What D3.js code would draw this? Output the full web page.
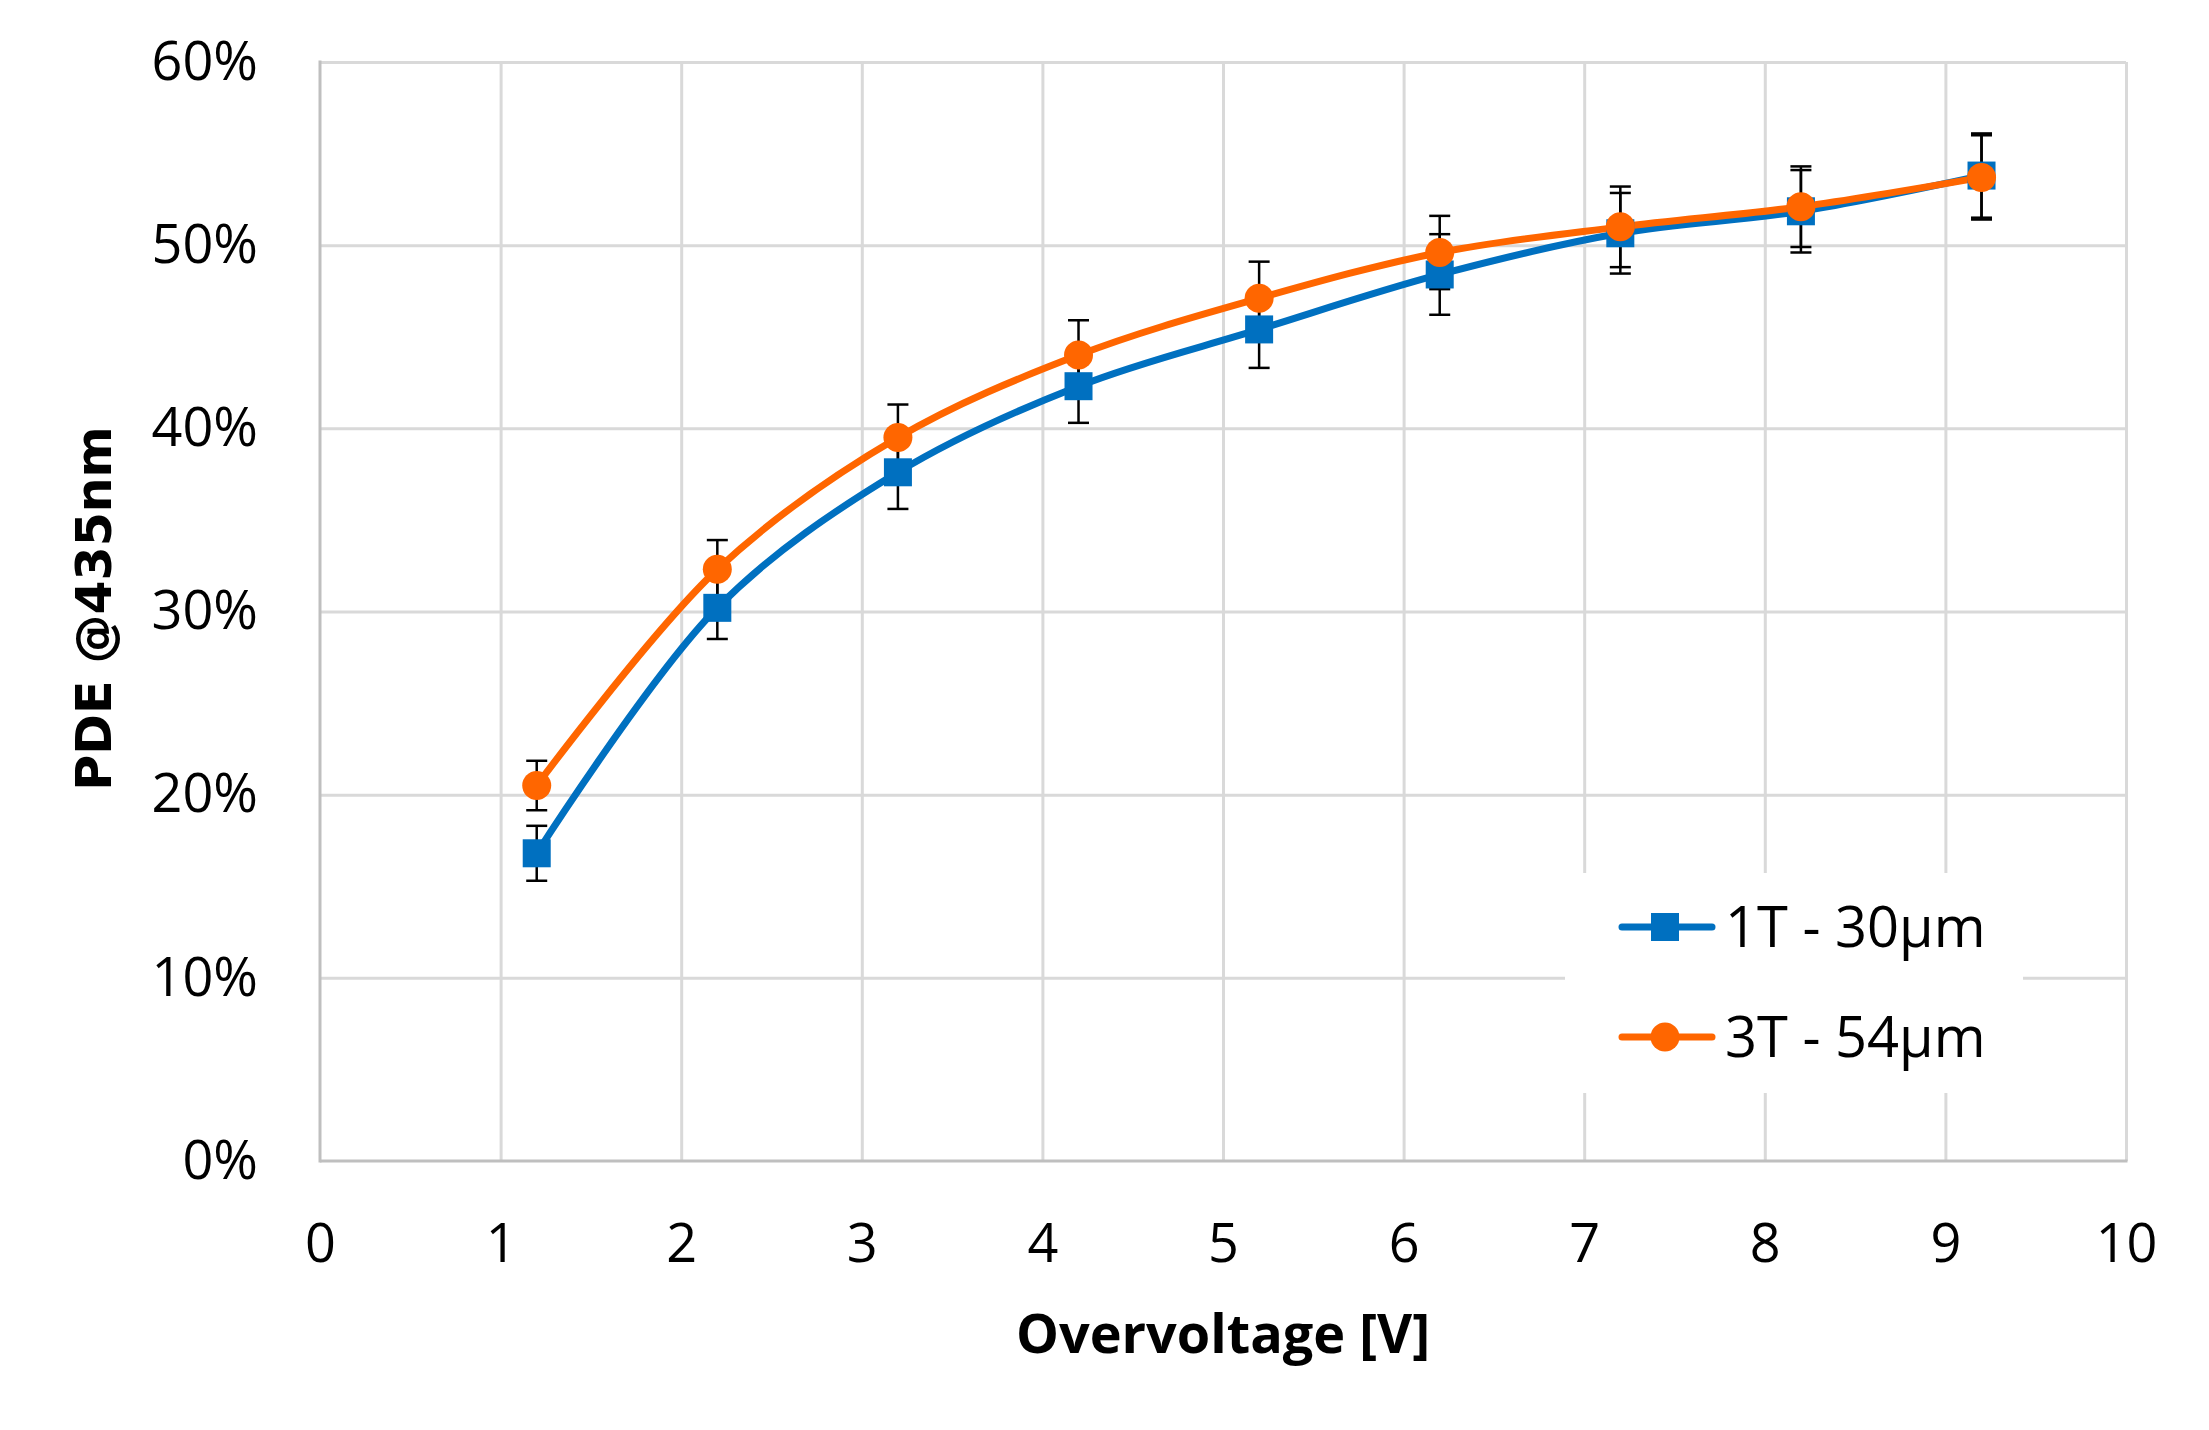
<!DOCTYPE html>
<html>
<head>
<meta charset="utf-8">
<script src="https://cdn.jsdelivr.net/npm/d3@7"></script>
<style>
  html, body { margin: 0; padding: 0; background: #ffffff; }
  svg { display: block; }
</style>
</head>
<body>
<div id="chart"></div>
<script>
// values
const overvoltage = [1.2, 2.2, 3.2, 4.2, 5.2, 6.2, 7.2, 8.2, 9.2];
const pde1T = [16.8, 30.2, 37.6, 42.3, 45.4, 48.4, 50.65, 51.85, 53.8];
const err1T = [1.5, 1.7, 2.0, 2.0, 2.1, 2.2, 2.2, 2.25, 2.3];
const pde3T = [20.5, 32.3, 39.5, 44.0, 47.1, 49.6, 51.0, 52.1, 53.7];
const err3T = [1.35, 1.6, 1.8, 1.9, 2.0, 2.0, 2.2, 2.2, 2.3];
const seriesNames = ['1T - 30\u00b5m', '3T - 54\u00b5m'];
const xTicks = [0, 1, 2, 3, 4, 5, 6, 7, 8, 9, 10];
const yTicks = [0, 10, 20, 30, 40, 50, 60];

const width = 2209;
const height = 1430;
const plot = { left: 320, right: 2126, top: 62, bottom: 1161 };
const labelFont = "'Open Sans', 'Noto Sans', sans-serif";

const svg = d3.select('#chart').append('svg')
    .attr('width', width)
    .attr('height', height)
    .attr('viewBox', `0 0 ${width} ${height}`);

const xScale = d3.scaleLinear().domain([0, 10]).range([plot.left, plot.right]);
const yScale = d3.scaleLinear().domain([0, 60]).range([plot.bottom, plot.top]);

// gridlines
svg.append('g')
    .attr('transform', `translate(${plot.left}, 0)`)
    .call(d3.axisLeft(yScale).tickValues(yTicks.slice(1)).tickSize(-(plot.right - plot.left)).tickFormat(''))
    .call(g => g.select('.domain').remove())
    .selectAll('line').attr('stroke', '#d9d9d9').attr('stroke-width', 3);
svg.append('g')
    .attr('transform', `translate(0, ${plot.bottom})`)
    .call(d3.axisBottom(xScale).tickValues(xTicks.slice(1)).tickSize(-(plot.bottom - plot.top)).tickFormat(''))
    .call(g => g.select('.domain').remove())
    .selectAll('line').attr('stroke', '#d9d9d9').attr('stroke-width', 3);

// axis lines
svg.append('line')
    .attr('x1', plot.left).attr('x2', plot.left)
    .attr('y1', plot.top - 1.5).attr('y2', plot.bottom + 1.5)
    .attr('stroke', '#bfbfbf').attr('stroke-width', 3);
svg.append('line')
    .attr('x1', plot.left).attr('x2', plot.right + 1.5)
    .attr('y1', plot.bottom).attr('y2', plot.bottom)
    .attr('stroke', '#bfbfbf').attr('stroke-width', 3);

// tick labels
const yAxis = svg.append('g')
    .attr('transform', `translate(${plot.left}, 0)`)
    .call(d3.axisLeft(yScale).tickValues(yTicks).tickSize(0).tickPadding(62).tickFormat(d => d + '%'));
yAxis.select('.domain').remove();
const xAxis = svg.append('g')
    .attr('transform', `translate(0, ${plot.bottom})`)
    .call(d3.axisBottom(xScale).tickValues(xTicks).tickSize(0).tickPadding(63).tickFormat(d3.format('d')));
xAxis.select('.domain').remove();
svg.selectAll('.tick text')
    .attr('fill', '#000000')
    .style('font-family', labelFont)
    .style('font-size', '54px');

// axis titles
svg.append('text')
    .attr('x', (plot.left + plot.right) / 2)
    .attr('y', 1353)
    .attr('text-anchor', 'middle')
    .style('font-family', labelFont)
    .style('font-size', '54px')
    .style('font-weight', '700')
    .text('Overvoltage [V]');
svg.append('text')
    .attr('transform', `translate(111, ${(plot.top + plot.bottom) / 2 - 3}) rotate(-90)`)
    .attr('text-anchor', 'middle')
    .style('font-family', "'DejaVu Sans', sans-serif")
    .style('font-size', '49px')
    .style('font-weight', '700')
    .text('PDE @435nm');

const series = [
    { name: seriesNames[0], values: pde1T, errors: err1T, color: '#0070c0', marker: 'square' },
    { name: seriesNames[1], values: pde3T, errors: err3T, color: '#ff6600', marker: 'circle' }
];
series.forEach(s => {
    s.points = overvoltage.map((v, i) => ({ x: v, y: s.values[i], e: s.errors[i] }));
});

const line = d3.line()
    .x(d => xScale(d.x))
    .y(d => yScale(d.y))
    .curve(d3.curveCatmullRom.alpha(0.5));

svg.selectAll('.series-line')
    .data(series)
    .enter()
    .append('path')
    .attr('class', 'series-line')
    .attr('fill', 'none')
    .attr('stroke', d => d.color)
    .attr('stroke-width', 7)
    .attr('stroke-linejoin', 'round')
    .attr('d', d => line(d.points));

// error bars
const capW = 21;
series.forEach(s => {
    const eb = svg.append('g').attr('stroke', '#000000').attr('stroke-width', 2.5);
    eb.selectAll('.stem').data(s.points).enter().append('line')
        .attr('x1', d => xScale(d.x)).attr('x2', d => xScale(d.x))
        .attr('y1', d => yScale(d.y - d.e)).attr('y2', d => yScale(d.y + d.e));
    eb.selectAll('.cap-top').data(s.points).enter().append('line')
        .attr('x1', d => xScale(d.x) - capW / 2).attr('x2', d => xScale(d.x) + capW / 2)
        .attr('y1', d => yScale(d.y + d.e)).attr('y2', d => yScale(d.y + d.e));
    eb.selectAll('.cap-bot').data(s.points).enter().append('line')
        .attr('x1', d => xScale(d.x) - capW / 2).attr('x2', d => xScale(d.x) + capW / 2)
        .attr('y1', d => yScale(d.y - d.e)).attr('y2', d => yScale(d.y - d.e));
});

// markers
function drawMarker(g, type, color, cx, cy) {
    if (type === 'square') {
        g.append('rect')
            .attr('x', cx - 14).attr('y', cy - 14)
            .attr('width', 28).attr('height', 28)
            .attr('fill', color);
    } else {
        g.append('circle')
            .attr('cx', cx).attr('cy', cy).attr('r', 14.5)
            .attr('fill', color);
    }
}
series.forEach(s => {
    const mg = svg.append('g');
    s.points.forEach(p => drawMarker(mg, s.marker, s.color, xScale(p.x), yScale(p.y)));
});

// legend
const legend = svg.append('g');
legend.append('rect')
    .attr('x', 1565).attr('y', 873)
    .attr('width', 458).attr('height', 220)
    .attr('fill', '#ffffff');
series.forEach((s, i) => {
    const ly = 927 + i * 110;
    legend.append('line')
        .attr('x1', 1622).attr('x2', 1712)
        .attr('y1', ly).attr('y2', ly)
        .attr('stroke', s.color).attr('stroke-width', 7)
        .attr('stroke-linecap', 'round');
    drawMarker(legend, s.marker, s.color, 1665, ly);
    legend.append('text')
        .attr('x', 1725)
        .attr('y', ly + 20)
        .style('font-family', labelFont)
        .style('font-size', '56px')
        .text(s.name);
});
</script>
</body>
</html>
